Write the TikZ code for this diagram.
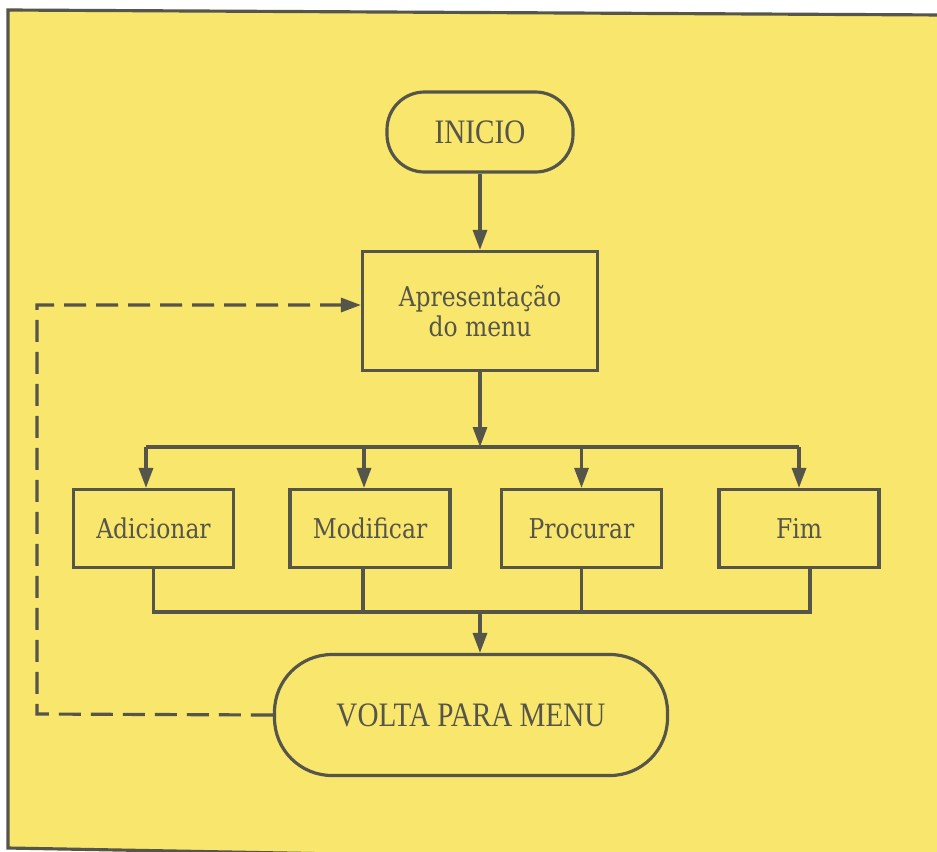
\documentclass[tikz,border=0pt]{standalone}
\usepackage{fontspec}
\newfontfamily\boxfont[FakeStretch=0.86]{DejaVu Serif}
\newfontfamily\capsfont[FakeStretch=0.85]{Liberation Serif}
\usetikzlibrary{arrows.meta}
\definecolor{paper}{HTML}{F9E66C}
\definecolor{ink}{HTML}{55554A}
\tikzstyle{terminal} = [rectangle, rounded corners=0.75cm,
minimum height=1.6cm,
minimum width=3.72cm,
text centered,
draw=ink, line width=1.8pt,
text=ink,
font=\capsfont\fontsize{19.5}{21}\selectfont]
\tikzstyle{process} = [rectangle,
minimum height=1.56cm,
minimum width=3.2cm,
text centered,
align=center,
draw=ink, line width=1.8pt,
text=ink,
font=\boxfont\fontsize{15.5}{17.5}\selectfont]
\tikzstyle{line} = [draw=ink, line width=1.8pt]
\tikzstyle{arrow} = [line, -{Triangle[length=4mm,width=2.8mm]}]
\tikzstyle{back} = [arrow, dash pattern=on 4.4mm off 2mm]

\begin{document}
\begin{tikzpicture}[node distance=2cm]
    \useasboundingbox (0,0) rectangle (18.74,-17.02);
    % page and its frame
    \fill [white] (0,0) rectangle (18.74,-17.02);
    \fill [paper] (0.16,-0.2) -- (18.9,-0.3) -- (18.9,-17.3) -- (0.16,-16.96) -- cycle;
    \draw [line] (18.9,-0.3) -- (0.16,-0.2) -- (0.16,-16.96) -- (18.9,-17.3);

    \node (inicio) [terminal] at (9.6,-2.64) {INICIO};
    \node (menu) [process, minimum width=4.7cm, minimum height=2.38cm, below of=inicio, yshift=-1.58cm] {Apresentação\\do menu};
    \node (adicionar) [process, below of=menu, xshift=-6.53cm, yshift=-2.35cm] {Adicionar};
    \node (modificar) [process, right of=adicionar, xshift=2.33cm] {Modificar};
    \node (procurar) [process, right of=modificar, xshift=2.23cm] {Procurar};
    \node (fim) [process, right of=procurar, xshift=2.35cm] {Fim};
    \node (volta) [terminal, rounded corners=1.15cm, minimum width=7.86cm, minimum height=2.42cm] at (9.42,-14.3) {VOLTA PARA MENU};

    \coordinate (split) at (9.6,-8.94);
    \coordinate (join) at (9.6,-12.24);
    \coordinate (loop) at (0.74,-14.28);

    \draw [arrow] (inicio) -- (menu);
    \draw [arrow] (menu) -- (split);
    \draw [line] ([xshift=-0.15cm]adicionar.north |- split) -- (fim.north |- split);
    \draw [arrow] ([xshift=-0.15cm]adicionar.north |- split) -- ([xshift=-0.15cm]adicionar.north);
    \draw [arrow] ([xshift=-0.12cm]modificar.north |- split) -- ([xshift=-0.12cm]modificar.north);
    \draw [arrow] (procurar.north |- split) -- (procurar.north);
    \draw [arrow] (fim.north |- split) -- (fim.north);

    \draw [line] (adicionar.south) -- (adicionar.south |- join) -- ([xshift=0.22cm]fim.south |- join) -- ([xshift=0.22cm]fim.south);
    \draw [line] ([xshift=-0.14cm]modificar.south) -- ([xshift=-0.14cm]modificar.south |- join);
    \draw [line] (procurar.south) -- (procurar.south |- join);
    \draw [arrow] (join) -- (join |- volta.north);

    % dashed return to the menu
    \draw [back] (volta.west) -- (loop) |- ([yshift=1.2mm]menu.west);
\end{tikzpicture}
\end{document}
